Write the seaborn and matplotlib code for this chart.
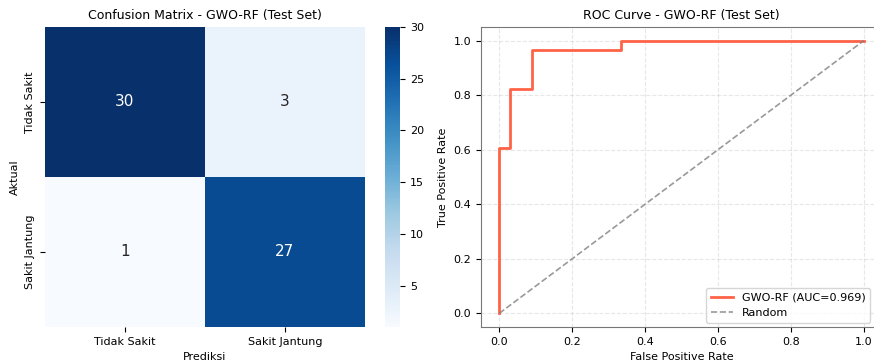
import numpy as np
import pandas as pd
import seaborn as sns
import matplotlib.pyplot as plt

# Data
class_labels = ['Tidak Sakit', 'Sakit Jantung']
conf_values = [[30, 3],
               [1, 27]]

fpr = [0.0, 0.0, 0.0303, 0.0303, 0.0909, 0.0909, 0.3333, 0.3333, 1.0]
tpr = [0.0, 0.607, 0.607, 0.821, 0.821, 0.964, 0.964, 1.0, 1.0]
roc_auc = 0.969

df_cm = pd.DataFrame(conf_values, index=class_labels, columns=class_labels)

W, H = 874, 363
fig = plt.figure(figsize=(W / 100, H / 100), dpi=100)

def box(x0, y0, x1, y1):
    # pixel box -> figure fraction
    return [x0 / W, 1 - y1 / H, (x1 - x0) / W, (y1 - y0) / H]

ax1 = fig.add_axes(box(45, 27, 365, 327))
cax = fig.add_axes(box(385, 27, 400, 327))
ax2 = fig.add_axes(box(481, 27, 882, 327))

# Confusion matrix
sns.heatmap(df_cm, annot=True, fmt='d', cmap='Blues', ax=ax1, cbar_ax=cax,
            annot_kws={'size': 11})
ax1.set_title('Confusion Matrix - GWO-RF (Test Set)', fontsize=9)
ax1.set_xlabel('Prediksi', fontsize=8)
ax1.set_ylabel('Aktual', fontsize=8)
ax1.tick_params(labelsize=8)
cax.tick_params(labelsize=8)

# ROC curve
ax2.plot(fpr, tpr, color='tomato', lw=2, label=f'GWO-RF (AUC={roc_auc:.3f})')
ax2.plot([0, 1], [0, 1], color='gray', lw=1.2, linestyle='--', alpha=0.8,
         label='Random')
ax2.set_title('ROC Curve - GWO-RF (Test Set)', fontsize=9)
ax2.set_xlabel('False Positive Rate', fontsize=8)
ax2.set_ylabel('True Positive Rate', fontsize=8)
ax2.tick_params(labelsize=8)
ax2.grid(True, linestyle='--', alpha=0.3)
ax2.legend(loc='lower right', fontsize=8, bbox_to_anchor=(0.97, 0.015),
           borderaxespad=0)
for s in ax2.spines.values():
    s.set_color('#777777')

plt.savefig('out.png', dpi=100)
